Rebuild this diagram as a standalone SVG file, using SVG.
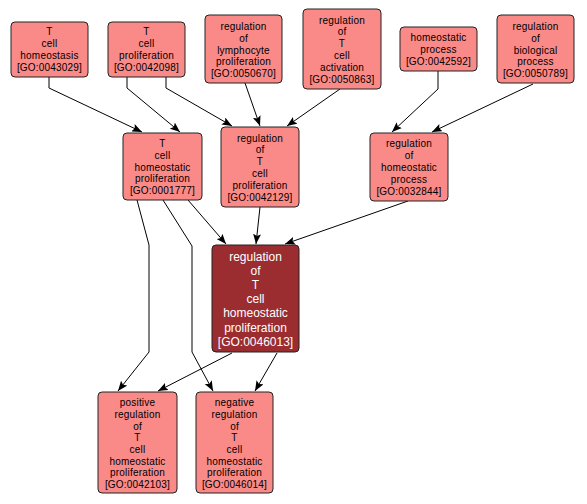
<svg xmlns="http://www.w3.org/2000/svg" width="587" height="504" viewBox="0 0 587 504">
<style>
.n rect{fill:#fa8a88;stroke:#222;stroke-width:1}
.c rect{fill:#9b2c2f;stroke:#222;stroke-width:1}
.n text{font-family:"Liberation Sans",Arial,sans-serif;font-size:10px;letter-spacing:0.2px;fill:#000;text-anchor:middle}
.c text{font-family:"Liberation Sans",Arial,sans-serif;font-size:12px;fill:#fff;text-anchor:middle}
.e path{fill:none;stroke:#000;stroke-width:1;marker-end:url(#ah)}
</style>
<defs>
<marker id="ah" markerUnits="userSpaceOnUse" markerWidth="10" markerHeight="8" refX="10" refY="4" orient="auto">
<path d="M0,0 L10,4 L0,8 L2,4 z" fill="#000"/>
</marker>
</defs>
<rect width="587" height="504" fill="#fff"/>
<g id="edges" class="e">
<path d="M49,77 L49,88 L142,132"/>
<path d="M127,77 L127,88 L180,132"/>
<path d="M166,77 L166,88 L232,126"/>
<path d="M245,83 L260,126"/>
<path d="M340,89 L287,126"/>
<path d="M438,71 L438,89 L392,132"/>
<path d="M533,84 L432,132"/>
<path d="M188,200 L226,244"/>
<path d="M260,207 L256,244"/>
<path d="M408,201 L285,244"/>
<path d="M137,200 L149,245 L149,352 L118,391"/>
<path d="M163,200 L192,246 L192,352 L213,391"/>
<path d="M232,353 L158,391"/>
<path d="M277,353 L255,391"/>
</g>
<g id="GO0043029" class="n"><rect x="11" y="22" width="77" height="55" rx="4"/>
<text x="49.5" y="35">T</text><text x="49.5" y="47">cell</text><text x="49.5" y="59">homeostasis</text><text x="49.5" y="71">[GO:0043029]</text></g>
<g id="GO0042098" class="n"><rect x="108" y="22" width="77" height="55" rx="4"/>
<text x="146.5" y="35">T</text><text x="146.5" y="47">cell</text><text x="146.5" y="59">proliferation</text><text x="146.5" y="71">[GO:0042098]</text></g>
<g id="GO0050670" class="n"><rect x="205" y="15" width="77" height="68" rx="4"/>
<text x="243.5" y="29.9">regulation</text><text x="243.5" y="41.7">of</text><text x="243.5" y="53.5">lymphocyte</text><text x="243.5" y="65.3">proliferation</text><text x="243.5" y="77.1">[GO:0050670]</text></g>
<g id="GO0050863" class="n"><rect x="303" y="9" width="78" height="80" rx="4"/>
<text x="342" y="23.5">regulation</text><text x="342" y="35.3">of</text><text x="342" y="47.1">T</text><text x="342" y="58.9">cell</text><text x="342" y="70.7">activation</text><text x="342" y="82.5">[GO:0050863]</text></g>
<g id="GO0042592" class="n"><rect x="400" y="27" width="77" height="44" rx="4"/>
<text x="438.5" y="41">homeostatic</text><text x="438.5" y="52.8">process</text><text x="438.5" y="64.6">[GO:0042592]</text></g>
<g id="GO0050789" class="n"><rect x="497" y="15" width="77" height="68" rx="4"/>
<text x="535.5" y="29.9">regulation</text><text x="535.5" y="41.7">of</text><text x="535.5" y="53.5">biological</text><text x="535.5" y="65.3">process</text><text x="535.5" y="77.1">[GO:0050789]</text></g>
<g id="GO0001777" class="n"><rect x="123" y="133" width="79" height="67" rx="4"/>
<text x="162.5" y="147">T</text><text x="162.5" y="158.8">cell</text><text x="162.5" y="170.6">homeostatic</text><text x="162.5" y="182.4">proliferation</text><text x="162.5" y="194.2">[GO:0001777]</text></g>
<g id="GO0042129" class="n"><rect x="221" y="127" width="78" height="80" rx="4"/>
<text x="260" y="141.5">regulation</text><text x="260" y="153.3">of</text><text x="260" y="165.1">T</text><text x="260" y="176.9">cell</text><text x="260" y="188.7">proliferation</text><text x="260" y="200.5">[GO:0042129]</text></g>
<g id="GO0032844" class="n"><rect x="370" y="133" width="78" height="68" rx="4"/>
<text x="409" y="147.4">regulation</text><text x="409" y="159.2">of</text><text x="409" y="171">homeostatic</text><text x="409" y="182.8">process</text><text x="409" y="194.6">[GO:0032844]</text></g>
<g id="GO0046013" class="c"><rect x="212" y="245" width="87" height="107" rx="4"/>
<text x="255.5" y="260.5">regulation</text><text x="255.5" y="274.7">of</text><text x="255.5" y="288.9">T</text><text x="255.5" y="303.1">cell</text><text x="255.5" y="317.3">homeostatic</text><text x="255.5" y="331.5">proliferation</text><text x="255.5" y="345.7">[GO:0046013]</text></g>
<g id="GO0042103" class="n"><rect x="98" y="392" width="79" height="101" rx="4"/>
<text x="137.5" y="406.1">positive</text><text x="137.5" y="417.8">regulation</text><text x="137.5" y="429.5">of</text><text x="137.5" y="441.2">T</text><text x="137.5" y="452.9">cell</text><text x="137.5" y="464.6">homeostatic</text><text x="137.5" y="476.3">proliferation</text><text x="137.5" y="488">[GO:0042103]</text></g>
<g id="GO0046014" class="n"><rect x="196" y="392" width="77" height="101" rx="4"/>
<text x="234.5" y="406.1">negative</text><text x="234.5" y="417.8">regulation</text><text x="234.5" y="429.5">of</text><text x="234.5" y="441.2">T</text><text x="234.5" y="452.9">cell</text><text x="234.5" y="464.6">homeostatic</text><text x="234.5" y="476.3">proliferation</text><text x="234.5" y="488">[GO:0046014]</text></g>
</svg>
